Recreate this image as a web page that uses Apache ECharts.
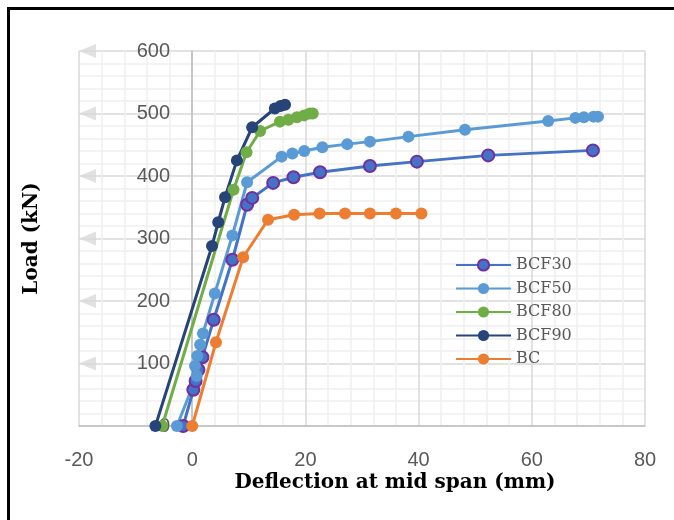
<!DOCTYPE html>
<html>
<head>
<meta charset="utf-8">
<script src="https://cdn.jsdelivr.net/npm/echarts@6/dist/echarts.min.js"></script>
<style>
  html, body { margin: 0; padding: 0; background: #fff; overflow: hidden; }
  #chart { width: 674px; height: 520px; }
</style>
</head>
<body>
<div id="chart"></div>
<script>
// deflection (mm) / load (kN)
var bcf30X = [-1.6, 0.2, 0.6, 1.1, 1.8, 3.8, 7.1, 9.7, 10.6, 14.3, 17.9, 22.6, 31.4, 39.7, 52.3, 70.8];
var bcf30Y = [0, 58, 72, 90, 110, 170, 266, 354, 365, 389, 398, 406, 416, 423, 433, 441];

var bcf50X = [-2.7, 0.8, 0.5, 0.9, 1.4, 1.9, 4.0, 7.1, 9.7, 15.8, 17.7, 19.8, 23.0, 27.4, 31.4, 38.2, 48.2, 62.9, 67.7, 69.2, 70.9, 71.7];
var bcf50Y = [0, 80, 96, 112, 130, 148, 212, 305, 390, 431, 436, 440, 446, 451, 455, 463, 474, 488, 493, 494, 495, 495];

var bcf80X = [-5.3, 7.3, 9.6, 12.0, 15.5, 17.0, 18.5, 19.8, 20.8, 21.3];
var bcf80Y = [0, 378, 438, 472, 487, 490, 494, 497, 500, 500];

var bcf90X = [-6.5, 3.5, 4.6, 5.8, 7.9, 10.6, 14.6, 15.6, 16.4];
var bcf90Y = [0, 288, 326, 366, 425, 478, 508, 512, 514];

var bcX = [0, 4.2, 9.0, 13.4, 18.0, 22.5, 27.0, 31.4, 36.0, 40.5];
var bcY = [0, 134, 270, 330, 338, 340, 340, 340, 340, 340];

var seriesNames = ['BCF30', 'BCF50', 'BCF80', 'BCF90', 'BC'];
var arrowTicks = [100, 200, 300, 400, 500, 600];

function pairs(xs, ys) {
    var out = [];
    for (var i = 0; i < xs.length; i++) out.push([xs[i], ys[i]]);
    return out;
}

var myChart = echarts.init(document.getElementById('chart'));

function lineSeries(name, xs, ys, color, border) {
    return {
        name: name,
        type: 'line',
        data: pairs(xs, ys),
        symbol: 'circle',
        symbolSize: 12,
        lineStyle: { color: color, width: 3 },
        itemStyle: { color: color, borderColor: border || color, borderWidth: border ? 2 : 0 },
        emphasis: { disabled: true },
        z: 3
    };
}

var option = {
    animation: false,
    grid: { left: 79, right: 29, top: 51, bottom: 94, outerBoundsMode: 'none', containLabel: false },
    graphic: [
        {
            // cadre noir (haut et gauche seulement, le reste est coupé)
            type: 'polyline',
            shape: { points: [[8.5, 520], [8.5, 8.5], [674, 8.5]] },
            style: { stroke: '#000', lineWidth: 3, fill: null }
        },
        {
            type: 'text',
            x: 395,
            y: 483,
            style: {
                text: 'Deflection at mid span (mm)',
                align: 'center',
                verticalAlign: 'middle',
                font: 'bold 20px "DejaVu Serif"',
                fill: '#000'
            }
        }
    ],
    legend: {
        orient: 'vertical',
        left: 450,
        top: 252,
        itemWidth: 55,
        itemHeight: 14,
        itemGap: 7.5,
        data: seriesNames,
        textStyle: { fontFamily: 'DejaVu Serif', fontSize: 16, color: '#595959' }
    },
    xAxis: {
        type: 'value',
        min: -20,
        max: 80,
        interval: 20,
        axisLine: { lineStyle: { color: '#bfbfbf', width: 1.5 } },
        axisTick: { show: false },
        axisLabel: { margin: 24, fontFamily: 'Liberation Sans', fontSize: 20, color: '#595959' },
        splitLine: { lineStyle: { color: '#d9d9d9', width: 1.5 } },
        minorTick: { show: false, splitNumber: 5 },
        minorSplitLine: { show: true, lineStyle: { color: '#efefef', width: 1.5 } }
    },
    yAxis: {
        type: 'value',
        min: 0,
        max: 600,
        interval: 100,
        offset: -113,
        name: 'Load (kN)',
        nameLocation: 'middle',
        nameGap: 150,
        nameTextStyle: { fontFamily: 'DejaVu Serif', fontWeight: 'bold', fontSize: 20, color: '#000' },
        axisLine: { show: true, onZero: false, lineStyle: { color: '#bfbfbf', width: 1.5 } },
        axisTick: { show: false },
        axisLabel: { margin: 22, fontFamily: 'Liberation Sans', fontSize: 20, color: '#595959' },
        splitLine: { lineStyle: { color: '#d9d9d9', width: 1.5 } },
        minorTick: { show: false, splitNumber: 5 },
        minorSplitLine: { show: true, lineStyle: { color: '#efefef', width: 1.5 } }
    },
    series: [
        {
            type: 'scatter',
            silent: true,
            symbol: 'triangle',
            symbolRotate: 90,
            symbolSize: [14, 17],
            itemStyle: { color: '#d9d9d9' },
            data: arrowTicks.map(function (v) { return [-18.5, v]; }),
            z: 1
        },
        lineSeries('BCF30', bcf30X, bcf30Y, '#4472c4', '#7030a0'),
        lineSeries('BCF50', bcf50X, bcf50Y, '#5b9bd5'),
        lineSeries('BCF80', bcf80X, bcf80Y, '#70ad47'),
        lineSeries('BCF90', bcf90X, bcf90Y, '#264478'),
        lineSeries('BC', bcX, bcY, '#ed7d31')
    ]
};
myChart.setOption(option);
</script>
</body>
</html>
